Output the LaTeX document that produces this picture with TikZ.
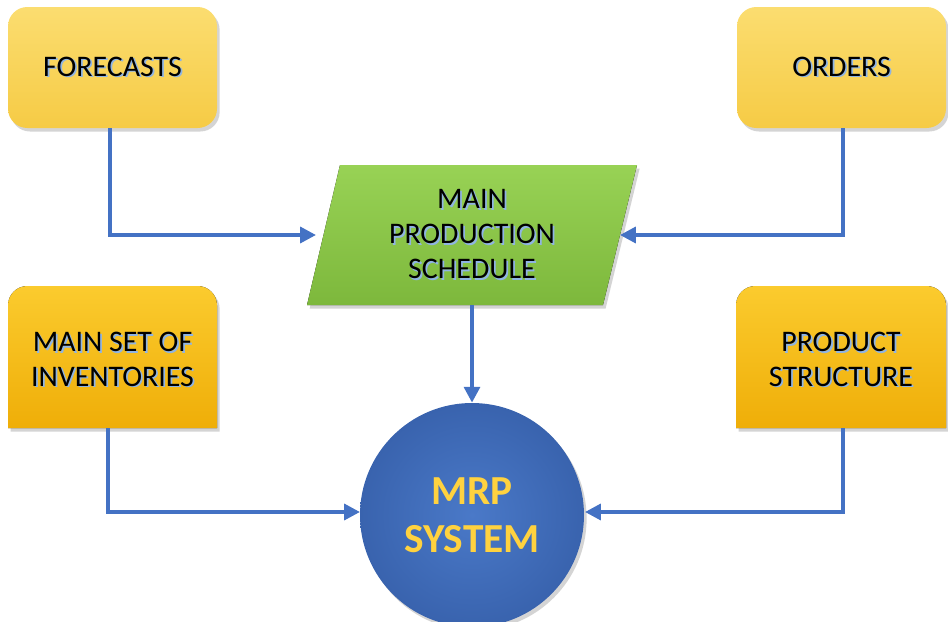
\documentclass[tikz,border=0pt]{standalone}
\usepackage{fontspec}
\setmainfont{Carlito}
\usetikzlibrary{shadows,arrows.meta}
\definecolor{lineblue}{HTML}{4472C4}
\definecolor{glowblue}{HTML}{8FB4E3}
\definecolor{palegoldT}{HTML}{FBDD70}
\definecolor{palegoldB}{HTML}{F6CB45}
\definecolor{goldT}{HTML}{FBCB2E}
\definecolor{goldB}{HTML}{EFAE08}
\definecolor{greenT}{HTML}{98D255}
\definecolor{greenB}{HTML}{7DB83C}
\definecolor{discIn}{HTML}{4A79C8}
\definecolor{discOut}{HTML}{3963AE}
\definecolor{mrpyellow}{HTML}{FFD23F}
% black lettering with a pale blue shadow behind it
\newcommand\gl[1]{\makebox[0pt][l]{\kern1pt\raisebox{-1pt}{\textcolor{glowblue}{#1}}}#1}
\tikzset{
  softshadow/.style={drop shadow={opacity=0.28,shadow xshift=1.5pt,shadow yshift=-2pt,fill=black!60}},
  topbox/.style={rectangle,rounded corners=11pt,minimum width=209*0.02cm,minimum height=121*0.02cm,
    top color=palegoldT,bottom color=palegoldB,draw=none,softshadow,
    align=center,font=\fontsize{17}{19.8}\selectfont},
  goldtab/.style={top color=goldT,bottom color=goldB,softshadow},
  label/.style={align=center,font=\fontsize{17}{19.8}\selectfont,inner sep=0pt},
  flow/.style={draw=lineblue,line width=2.1pt,-{Triangle[length=9pt,width=9pt]}},
}
\begin{document}
\begin{tikzpicture}[x=0.02cm,y=-0.02cm]
\useasboundingbox (0,0) rectangle (948,622);
\clip (0,0) rectangle (948,622);

% top inputs
\node[topbox] (fc) at (112.5,67.5) {\gl{FORECASTS}};
\node[topbox] (ord) at (841.5,67.5) {\gl{ORDERS}};

% lower inputs: boxes with rounded top corners only
\fill[goldtab] [rounded corners=11pt] (8,286) rectangle (217,400)
  [sharp corners] (8,330) rectangle (217,428);
\node[label] (inv) at (112.5,360) {\gl{MAIN SET OF}\\\gl{INVENTORIES}};
\coordinate (invS) at (108,428);

\fill[goldtab] [rounded corners=11pt] (736,286) rectangle (946,400)
  [sharp corners] (736,330) rectangle (946,428);
\node[label] (ps) at (841,360) {\gl{PRODUCT}\\\gl{STRUCTURE}};
\coordinate (psS) at (843,428);

% master schedule parallelogram
\fill[top color=greenT,bottom color=greenB,softshadow]
  (340,165) -- (637,165) -- (603,305) -- (307,305) -- cycle;
\node[label] (mps) at (472,235) {\gl{MAIN}\\\gl{PRODUCTION}\\\gl{SCHEDULE}};
\coordinate (mpsW) at (316,235);
\coordinate (mpsE) at (620,235);
\coordinate (mpsS) at (472,305);

% MRP disc
\node[circle,minimum size=224*0.02cm,inner color=discIn,outer color=discOut,softshadow,
  align=center,text=mrpyellow,font=\fontsize{23.5}{27.5}\selectfont\bfseries] (mrp) at (472,515)
  {MRP\\SYSTEM};
\coordinate (mrpW) at (360,512);
\coordinate (mrpE) at (585,512);

% connectors
\draw[flow] (fc.south -| 110,0) |- (mpsW);
\draw[flow] (ord.south -| 843,0) |- (mpsE);
\draw[flow] (mpsS) -- (mrp.north);
\draw[flow] (invS) |- (mrpW);
\draw[flow] (psS) |- (mrpE);
\end{tikzpicture}
\end{document}
